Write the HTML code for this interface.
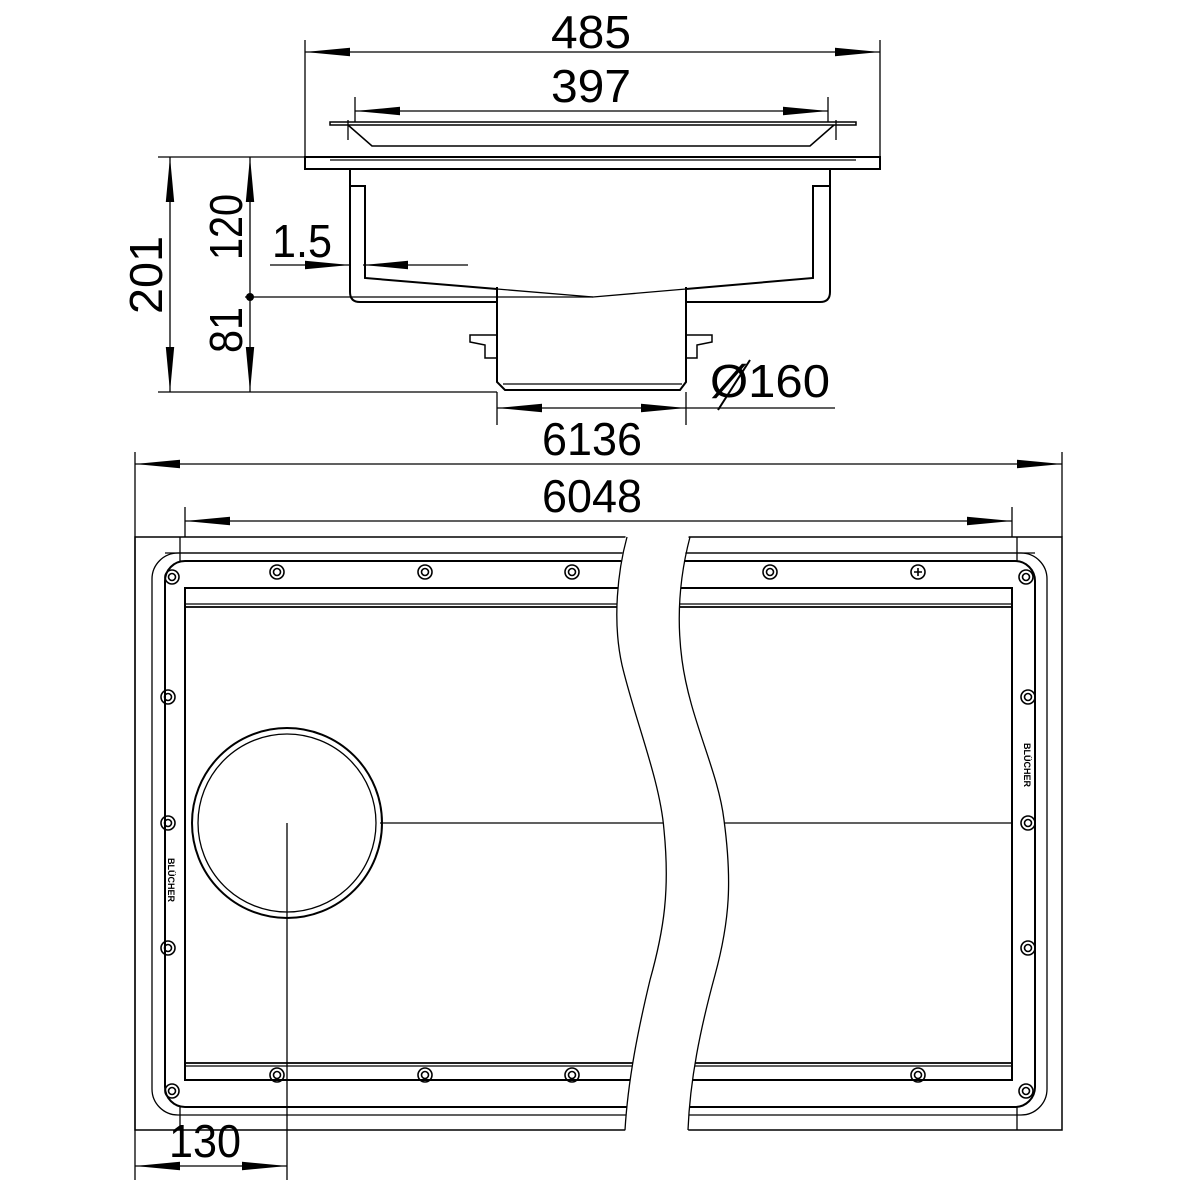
<!DOCTYPE html>
<html><head><meta charset="utf-8"><style>body{margin:0;background:#fff}svg{display:block}text{font-family:"Liberation Sans",sans-serif;font-size:46px;fill:#000}</style></head>
<body>
<svg width="1181" height="1181" viewBox="0 0 1181 1181" xmlns="http://www.w3.org/2000/svg">
<defs>
<marker id="a" viewBox="0 0 10 10" refX="10" refY="5" markerWidth="45" markerHeight="14" markerUnits="userSpaceOnUse" orient="auto-start-reverse" preserveAspectRatio="none"><path d="M0,2 L10,5 L0,8Z" fill="#000"/></marker>
</defs>
<g fill="none" stroke="#000" stroke-width="1.3">
<line x1="305" y1="40" x2="305" y2="157"/><line x1="880" y1="40" x2="880" y2="157"/>
<line x1="305" y1="52" x2="880" y2="52" marker-start="url(#a)" marker-end="url(#a)"/>
<line x1="355" y1="97" x2="355" y2="122"/><line x1="828" y1="97" x2="828" y2="122"/>
<line x1="355" y1="111" x2="828" y2="111" marker-start="url(#a)" marker-end="url(#a)"/>
<path d="M330,122 H856 V125 H330Z" stroke-width="1.5"/>
<path d="M348,125 L372,146 H810 L834,125" stroke-width="1.6"/>
<path d="M348,120 V140 M836,120 V140"/>
<rect x="305" y="157" width="575" height="12" stroke-width="2"/>
<line x1="330" y1="160" x2="856" y2="160"/>
<path d="M350,169 V292 Q350,302 360,302 H497 M686,302 H820 Q830,302 830,292 V169" stroke-width="2"/>
<path d="M350,186 H365 V278 L497,289 M686,289 L813,278 V186 H830" stroke-width="2"/>
<path d="M497,289 L593,297 L686,289"/>
<path d="M497,287 V382 L505,390 H680 L686,382 V287" stroke-width="2"/>
<line x1="503" y1="384" x2="682" y2="384"/>
<path d="M497,335 H470 V342 L485,345 V358 H497 M686,335 H712 V342 L697,345 V358 H686" stroke-width="1.5"/>
<line x1="158" y1="157" x2="350" y2="157"/><line x1="158" y1="392" x2="497" y2="392"/><line x1="245" y1="297" x2="593" y2="297"/>
<line x1="170" y1="157" x2="170" y2="392" marker-start="url(#a)" marker-end="url(#a)"/>
<line x1="250" y1="157" x2="250" y2="297" marker-start="url(#a)"/>
<line x1="250" y1="297" x2="250" y2="392" marker-end="url(#a)"/>
<line x1="270" y1="265" x2="350" y2="265" marker-end="url(#a)"/>
<line x1="468" y1="265" x2="363" y2="265" marker-end="url(#a)"/>
<line x1="497" y1="392" x2="497" y2="425"/><line x1="686" y1="392" x2="686" y2="425"/>
<line x1="497" y1="408" x2="686" y2="408" marker-start="url(#a)" marker-end="url(#a)"/>
<line x1="686" y1="408" x2="835" y2="408"/>
<line x1="135" y1="452" x2="135" y2="1180"/><line x1="1062" y1="452" x2="1062" y2="537"/>
<line x1="135" y1="464" x2="1062" y2="464" marker-start="url(#a)" marker-end="url(#a)"/>
<line x1="185" y1="507" x2="185" y2="537"/><line x1="1012" y1="507" x2="1012" y2="537"/>
<line x1="185" y1="521" x2="1012" y2="521" marker-start="url(#a)" marker-end="url(#a)"/>
<line x1="135" y1="1166" x2="287" y2="1166" marker-start="url(#a)" marker-end="url(#a)"/>
<rect x="135" y="537" width="927" height="593" stroke-width="1.5"/>
<rect x="152" y="553" width="895" height="562" rx="26" stroke-width="1.3"/>
<rect x="165" y="561" width="870" height="546" rx="20" stroke-width="2"/>
<line x1="180" y1="537" x2="180" y2="561"/><line x1="1017" y1="537" x2="1017" y2="561"/>
<line x1="180" y1="1107" x2="180" y2="1130"/><line x1="1017" y1="1107" x2="1017" y2="1130"/>
<line x1="165" y1="553" x2="1035" y2="553"/>
<line x1="185" y1="588" x2="1012" y2="588" stroke-width="2"/>
<line x1="185" y1="604" x2="1012" y2="604"/><line x1="185" y1="607" x2="1012" y2="607" stroke-width="1.8"/>
<line x1="185" y1="1080" x2="1012" y2="1080" stroke-width="2"/>
<line x1="185" y1="1066" x2="1012" y2="1066"/><line x1="185" y1="1063" x2="1012" y2="1063" stroke-width="1.8"/>
<rect x="185" y="588" width="827" height="492" stroke-width="2"/>
<line x1="380" y1="823" x2="1012" y2="823"/>
<line x1="287" y1="823" x2="287" y2="1180"/>
<circle cx="287" cy="823" r="95" stroke-width="2"/>
<circle cx="287" cy="823" r="89" stroke-width="1.3"/>
<g stroke-width="1.6">
<circle cx="172" cy="577" r="7"/><circle cx="172" cy="577" r="3.5"/>
<circle cx="277" cy="572" r="7"/><circle cx="277" cy="572" r="3.5"/>
<circle cx="425" cy="572" r="7"/><circle cx="425" cy="572" r="3.5"/>
<circle cx="572" cy="572" r="7"/><circle cx="572" cy="572" r="3.5"/>
<circle cx="770" cy="572" r="7"/><circle cx="770" cy="572" r="3.5"/>
<circle cx="918" cy="572" r="7"/><path d="M914,572H922M918,568V576"/>
<circle cx="1026" cy="577" r="7"/><circle cx="1026" cy="577" r="3.5"/>
<circle cx="172" cy="1091" r="7"/><circle cx="172" cy="1091" r="3.5"/>
<circle cx="277" cy="1075" r="7"/><circle cx="277" cy="1075" r="3.5"/>
<circle cx="425" cy="1075" r="7"/><circle cx="425" cy="1075" r="3.5"/>
<circle cx="572" cy="1075" r="7"/><circle cx="572" cy="1075" r="3.5"/>
<circle cx="918" cy="1075" r="7"/><circle cx="918" cy="1075" r="3.5"/>
<circle cx="1026" cy="1091" r="7"/><circle cx="1026" cy="1091" r="3.5"/>
<circle cx="168" cy="697" r="7"/><circle cx="168" cy="697" r="3.5"/>
<circle cx="168" cy="823" r="7"/><circle cx="168" cy="823" r="3.5"/>
<circle cx="168" cy="948" r="7"/><circle cx="168" cy="948" r="3.5"/>
<circle cx="1028" cy="697" r="7"/><circle cx="1028" cy="697" r="3.5"/>
<circle cx="1028" cy="823" r="7"/><circle cx="1028" cy="823" r="3.5"/>
<circle cx="1028" cy="948" r="7"/><circle cx="1028" cy="948" r="3.5"/>
</g>
<path d="M627,530 C618,570 612,620 622,665 C635,720 660,780 664,830 C670,890 664,930 650,980 C638,1030 628,1080 625,1135 L688,1135 C690,1080 700,1030 715,975 C730,920 732,880 724,820 C718,770 690,720 682,660 C676,615 680,575 690,530 Z" fill="#fff" stroke="none"/>
<path d="M627,537 C618,570 612,620 622,665 C635,720 660,780 664,830 C670,890 664,930 650,980 C638,1030 628,1080 625,1130"/>
<path d="M690,537 C680,575 676,615 682,660 C690,720 718,770 724,820 C732,880 730,920 715,975 C700,1030 690,1080 688,1130"/>
</g>
<circle cx="250" cy="297" r="4" fill="#000"/>
<line x1="718" y1="410" x2="750" y2="360" stroke="#000" stroke-width="2"/>
<text x="591" y="48" text-anchor="middle" textLength="80" lengthAdjust="spacingAndGlyphs">485</text>
<text x="591" y="102" text-anchor="middle" textLength="80" lengthAdjust="spacingAndGlyphs">397</text>
<text x="272" y="257" textLength="60" lengthAdjust="spacingAndGlyphs">1.5</text>
<text x="710" y="397" textLength="120" lengthAdjust="spacingAndGlyphs">Ø160</text>
<text x="592" y="455" text-anchor="middle" textLength="100" lengthAdjust="spacingAndGlyphs">6136</text>
<text x="592" y="512" text-anchor="middle" textLength="100" lengthAdjust="spacingAndGlyphs">6048</text>
<text x="205" y="1157" text-anchor="middle" textLength="72" lengthAdjust="spacingAndGlyphs">130</text>
<text transform="translate(162,275) rotate(-90)" text-anchor="middle" textLength="78" lengthAdjust="spacingAndGlyphs">201</text>
<text transform="translate(242,227) rotate(-90)" text-anchor="middle" textLength="66" lengthAdjust="spacingAndGlyphs">120</text>
<text transform="translate(242,330) rotate(-90)" text-anchor="middle" textLength="46" lengthAdjust="spacingAndGlyphs">81</text>
<text transform="translate(168,880) rotate(90)" text-anchor="middle" style="font-size:9px;font-weight:bold">BLÜCHER</text>
<text transform="translate(1024,765) rotate(90)" text-anchor="middle" style="font-size:9px;font-weight:bold">BLÜCHER</text>
</svg>
</body></html>
